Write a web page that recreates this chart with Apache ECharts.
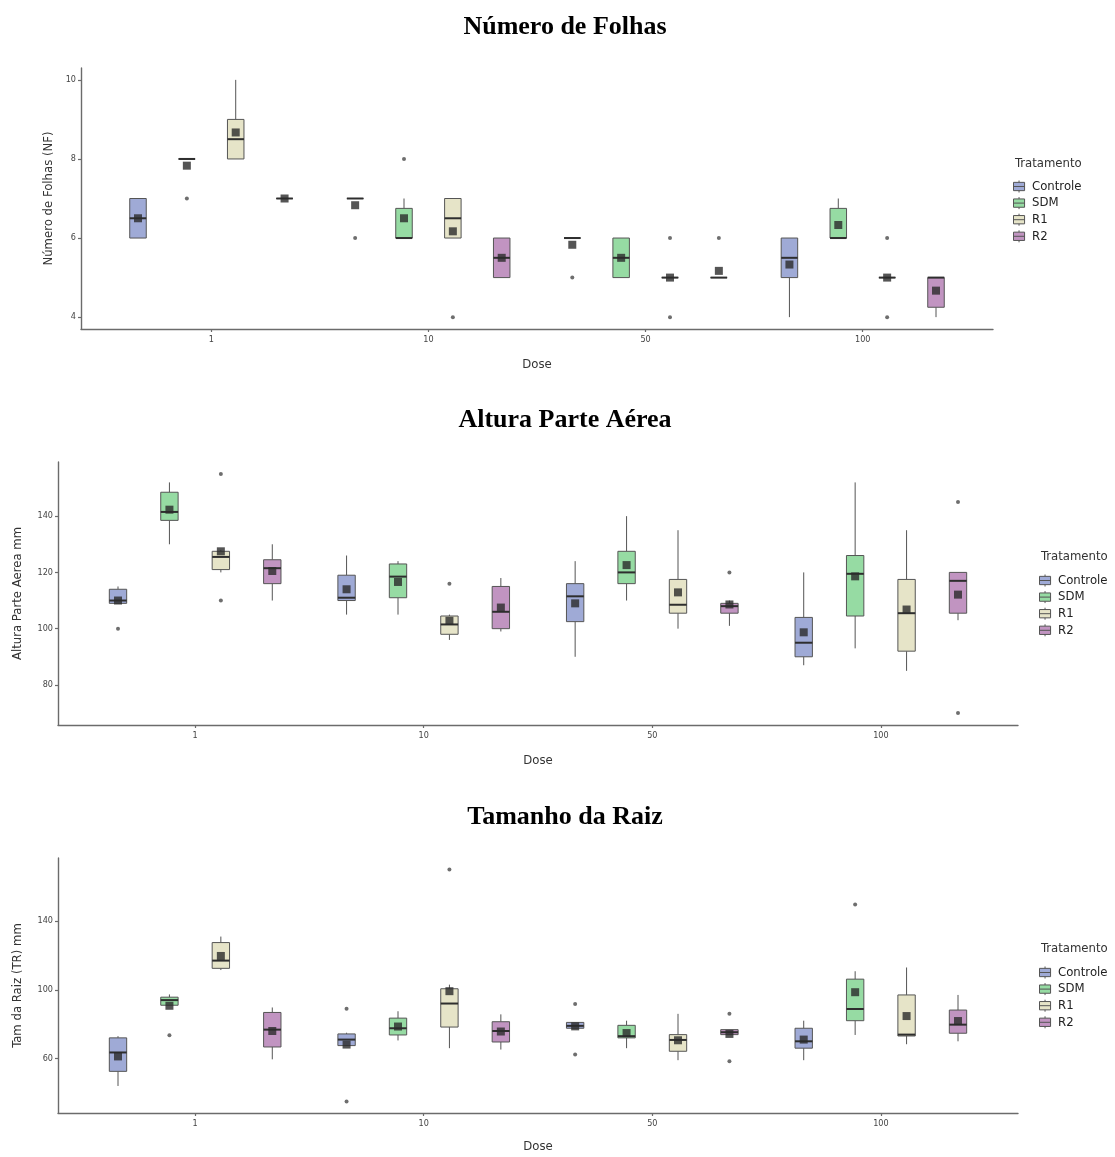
<!DOCTYPE html>
<html><head><meta charset="utf-8">
<script src="https://cdn.jsdelivr.net/npm/echarts@6/dist/echarts.min.js"></script>
<style>html,body{margin:0;padding:0;background:#fff}#c{width:1115px;height:1157px}</style>
</head><body><div id="c"></div>
<script>
// ---------- DATA ----------
const doses = ['1', '10', '50', '100'];
const treatments = ['Controle', 'SDM', 'R1', 'R2'];
const titles = ['Número de Folhas', 'Altura Parte Aérea', 'Tamanho da Raiz'];
const yNames = ['Número de Folhas (NF)', 'Altura Parte Aerea mm', 'Tam da Raiz (TR) mm'];
const yTicksNF = [4, 6, 8, 10];
const yTicksAPA = [80, 100, 120, 140];
const yTicksTR = [60, 100, 140];

// boxes: [treatment][dose] = [whiskerLow, Q1, median, Q3, whiskerHigh]
const nfBox = [
  [[6, 6, 6.5, 7, 7], [7, 7, 7, 7, 7], [6, 6, 6, 6, 6], [4, 5, 5.5, 6, 6]],
  [[8, 8, 8, 8, 8], [6, 6, 6, 6.75, 7], [5, 5, 5.5, 6, 6], [6, 6, 6, 6.75, 7]],
  [[8, 8, 8.5, 9, 10], [6, 6, 6.5, 7, 7], [5, 5, 5, 5, 5], [5, 5, 5, 5, 5]],
  [[7, 7, 7, 7, 7], [5, 5, 5.5, 6, 6], [5, 5, 5, 5, 5], [4, 4.25, 5, 5, 5]]
];
const nfMean = [[6.5, 6.83, 5.83, 5.33], [7.83, 6.5, 5.5, 6.33], [8.67, 6.17, 5, 5], [7, 5.5, 5.17, 4.67]];
const nfOut = [[[], [6], [5], []], [[7], [8], [], []], [[], [4], [6, 4], [6, 4]], [[], [], [6], []]];

const apaBox = [
  [[109, 109, 110, 114, 115], [105, 110, 111, 119, 126], [90, 102.5, 111.5, 116, 124], [87, 90, 95, 104, 120]],
  [[130, 138.5, 141.5, 148.5, 152], [105, 111, 118.5, 123, 124], [110, 116, 120, 127.5, 140], [93, 104.5, 119.5, 126, 152]],
  [[120, 121, 125.5, 127.5, 128], [96, 98, 101.5, 104.5, 105], [100, 105.5, 108.5, 117.5, 135], [85, 92, 105.5, 117.5, 135]],
  [[110, 116, 121.5, 124.5, 130], [99, 100, 106, 115, 118], [101, 105.5, 108, 109, 110], [103, 105.5, 117, 120, 120]]
];
const apaMean = [[110, 114, 109, 98.7], [142.3, 116.6, 122.6, 118.6], [127.5, 102.8, 112.9, 106.8], [120.5, 107.5, 108.6, 112.1]];
const apaOut = [[[100], [], [], []], [[], [], [], []], [[155, 110], [116], [], []], [[], [], [120], [145, 70]]];

const trBox = [
  [[44, 52.5, 63.5, 72, 73], [67.5, 67.5, 71, 74.3, 75], [77.6, 77.6, 79, 81, 81], [59, 66, 70, 77.6, 82]],
  [[91, 91, 94, 95.7, 97.3], [70.5, 73.7, 77.6, 83.5, 87.5], [66, 72, 73, 79.3, 82], [73.7, 82, 88.8, 106.2, 110.8]],
  [[111.5, 112.5, 117, 127.5, 131], [66, 78.3, 92, 100.6, 103], [59, 64.2, 70.8, 73.9, 86], [68.3, 73.1, 73.9, 97, 113]],
  [[59.5, 66.7, 76.8, 86.8, 89.7], [65.2, 69.6, 76, 81.4, 85.7], [73.9, 73.9, 75.3, 76.8, 76.8], [70, 74.7, 79.7, 88.2, 97]]
];
const trMean = [[61.2, 68.1, 78.7, 71], [90.7, 78.6, 74.8, 98.6], [119.7, 99.2, 70.6, 84.7], [76, 75.7, 74.3, 81.8]];
const trOut = [[[], [89, 35], [91.7, 62.3], []], [[73.5], [], [], [149.6]], [[], [170], [], []], [[], [], [86, 58.4], []]];

// ---------- STYLE / LAYOUT ----------
const colors = ['#9faad6', '#96dba3', '#e6e4c8', '#c194c1'];
const OFFS = [-0.3375, -0.1125, 0.1125, 0.3375];
const HALF = 0.038;
const NARROW = "'Liberation Sans Narrow','DejaVu Sans Condensed','Roboto',sans-serif";
const panels = [
  {box: nfBox, mean: nfMean, out: nfOut, ticks: yTicksNF, min: 3.7, max: 10.3,
   grid: {left: 81, right: 122, top: 68, height: 261}, nameGap: 26, titleTop: 9, legTitleTop: 152, legLeft: 1008, legTop: 175, xNameGap: 29},
  {box: apaBox, mean: apaMean, out: apaOut, ticks: yTicksAPA, min: 65.75, max: 159.25,
   grid: {left: 58, right: 97, top: 462, height: 263}, nameGap: 34, titleTop: 402, legTitleTop: 545, legLeft: 1034, legTop: 569, xNameGap: 29},
  {box: trBox, mean: trMean, out: trOut, ticks: yTicksTR, min: 28.25, max: 176.75,
   grid: {left: 58, right: 97, top: 858, height: 255}, nameGap: 34, titleTop: 799, legTitleTop: 937, legLeft: 1034, legTop: 961, xNameGap: 27}
];

const axisCol = '#6b6b6b';
const grids = [], xAxes = [], yAxes = [], series = [], titleArr = [], legends = [];
const legendIcon = 'path://M6,0V2M0,2H12V11H0ZM0,6.5H12M6,11V13';

panels.forEach((P, p) => {
  grids.push(P.grid);
  titleArr.push({text: titles[p], left: 560, top: P.titleTop, textAlign: 'center',
    textStyle: {fontFamily: "'Liberation Serif','Times New Roman',serif", fontWeight: 'bold', fontSize: 26, color: '#000'}});
  titleArr.push({text: 'Tratamento', left: P.legLeft + 2, top: P.legTitleTop,
    textStyle: {fontFamily: NARROW, fontWeight: 'normal', fontSize: 13, color: '#333'}});
  xAxes.push({type: 'value', gridIndex: p, min: -0.6, max: 3.6,
    name: 'Dose', nameLocation: 'middle', nameGap: P.xNameGap,
    nameTextStyle: {fontFamily: NARROW, fontSize: 13, color: '#333'},
    axisLine: {show: true, onZero: false, lineStyle: {color: axisCol, width: 1.4}},
    axisTick: {show: true, length: 3, lineStyle: {color: axisCol, width: 1.2}, customValues: [0, 1, 2, 3]},
    axisLabel: {customValues: [0, 1, 2, 3], formatter: v => doses[Math.round(v)], fontFamily: NARROW, fontSize: 9, color: '#444', margin: 6},
    splitLine: {show: false}});
  yAxes.push({type: 'value', gridIndex: p, min: P.min, max: P.max,
    name: yNames[p], nameLocation: 'middle', nameGap: P.nameGap,
    nameTextStyle: {fontFamily: NARROW, fontSize: 13, color: '#333'},
    axisLine: {show: true, onZero: false, lineStyle: {color: axisCol, width: 1.4}},
    axisTick: {show: true, length: 3, lineStyle: {color: axisCol, width: 1.2}, customValues: P.ticks},
    axisLabel: {customValues: P.ticks, fontFamily: NARROW, fontSize: 9, color: '#444', margin: 5},
    splitLine: {show: false}});
  legends.push({data: treatments, orient: 'vertical', left: P.legLeft, top: P.legTop,
    itemWidth: 12, itemHeight: 12, itemGap: 3.6, icon: legendIcon,
    itemStyle: {borderColor: '#555', borderWidth: 1},
    textStyle: {fontFamily: NARROW, fontSize: 13, color: '#222', padding: [0, 0, 0, 2]},
    selectedMode: false});

  const meanData = [], outData = [];
  treatments.forEach((t, ti) => {
    const data = P.box[ti].map((b, d) => [d + OFFS[ti], ...b]);
    series.push({
      type: 'custom', name: t, xAxisIndex: p, yAxisIndex: p, data: data,
      itemStyle: {color: colors[ti]}, z: 2,
      encode: {x: 0, y: [1, 2, 3, 4, 5]},
      renderItem: (params, api) => {
        const x = api.value(0);
        const lo = api.coord([x, api.value(1)]), q1 = api.coord([x, api.value(2)]),
              md = api.coord([x, api.value(3)]), q3 = api.coord([x, api.value(4)]),
              hi = api.coord([x, api.value(5)]);
        const w = api.size([2 * HALF, 0])[0];
        const cx = q1[0];
        return {type: 'group', children: [
          {type: 'line', shape: {x1: cx, y1: q3[1], x2: cx, y2: hi[1]}, style: {stroke: '#555', lineWidth: 1}},
          {type: 'line', shape: {x1: cx, y1: q1[1], x2: cx, y2: lo[1]}, style: {stroke: '#555', lineWidth: 1}},
          {type: 'rect', shape: {x: cx - w / 2, y: q3[1], width: w, height: q1[1] - q3[1]},
            style: {fill: colors[ti], stroke: '#555', lineWidth: 1}},
          {type: 'line', shape: {x1: cx - w / 2, y1: md[1], x2: cx + w / 2, y2: md[1]}, style: {stroke: '#2e2e2e', lineWidth: 2}}
        ]};
      }
    });
    P.mean[ti].forEach((m, d) => meanData.push([d + OFFS[ti], m]));
    P.out[ti].forEach((arr, d) => arr.forEach(v => outData.push([d + OFFS[ti], v])));
  });
  series.push({type: 'scatter', name: 'outliers', xAxisIndex: p, yAxisIndex: p, data: outData,
    symbol: 'circle', symbolSize: 4, itemStyle: {color: '#4a4a4a'}, z: 4});
  series.push({type: 'scatter', name: 'means', xAxisIndex: p, yAxisIndex: p, data: meanData,
    symbol: 'rect', symbolSize: 8, itemStyle: {color: '#2b2b2b'}, z: 5});
});

const chart = echarts.init(document.getElementById('c'), null, {renderer: 'canvas'});
chart.setOption({
  animation: false, backgroundColor: '#fff',
  title: titleArr, grid: grids, xAxis: xAxes, yAxis: yAxes, legend: legends, series: series
});
</script></body></html>
